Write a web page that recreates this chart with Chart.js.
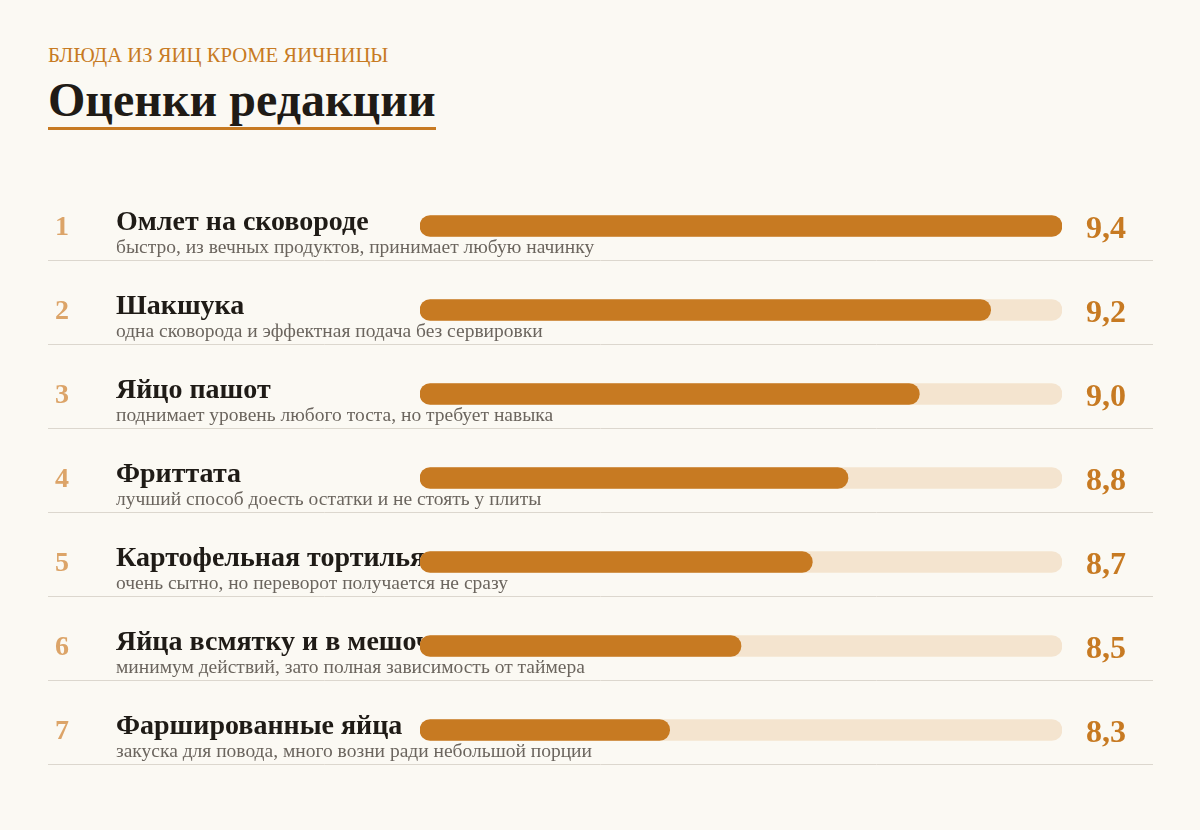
<!DOCTYPE html>
<html lang="ru">
<head>
<meta charset="utf-8">
<script src="https://cdn.jsdelivr.net/npm/chart.js@4.4.1/dist/chart.umd.min.js"></script>
<style>
  html, body { margin: 0; padding: 0; background: #fbf9f3; }
  body { width: 1200px; height: 830px; position: relative; overflow: hidden; font-family: "Liberation Serif", "DejaVu Serif", serif; }
  .kicker { position: absolute; left: 48px; top: 43px; font-size: 20.7px; color: #c77a22; line-height: 24px; }
  .title { position: absolute; left: 48px; top: 74px; font-size: 48px; font-weight: bold; color: #1f1b16; padding-bottom: 1px; border-bottom: 3px solid #c77a22; line-height: 52px; }
  #wrap { position: absolute; left: 0; top: 0; width: 1200px; height: 830px; }
</style>
</head>
<body>
<div class="kicker">БЛЮДА ИЗ ЯИЦ КРОМЕ ЯИЧНИЦЫ</div>
<div class="title">Оценки редакции</div>
<div id="wrap"><canvas id="ratingChart"></canvas></div>
<script>
const dishes = ['Омлет на сковороде', 'Шакшука', 'Яйцо пашот', 'Фриттата', 'Картофельная тортилья', 'Яйца всмятку и в мешочек', 'Фаршированные яйца'];
const notes = [
  'быстро, из вечных продуктов, принимает любую начинку',
  'одна сковорода и эффектная подача без сервировки',
  'поднимает уровень любого тоста, но требует навыка',
  'лучший способ доесть остатки и не стоять у плиты',
  'очень сытно, но переворот получается не сразу',
  'минимум действий, зато полная зависимость от таймера',
  'закуска для повода, много возни ради небольшой порции'
];
const scores = [9.4, 9.2, 9.0, 8.8, 8.7, 8.5, 8.3];
const scaleMin = 7.6;
const scaleMax = 9.4;

const SERIF = '"Liberation Serif", "DejaVu Serif", serif';

// ranks, names, notes, values and row rules, drawn under the bars
const rowText = {
  id: 'rowText',
  beforeDatasetsDraw(chart) {
    const { ctx, scales: { y } } = chart;
    ctx.save();
    dishes.forEach((name, i) => {
      const cy = y.getPixelForValue(i);
      ctx.textBaseline = 'alphabetic';
      ctx.textAlign = 'center';
      ctx.fillStyle = '#dca468';
      ctx.font = 'bold 28px ' + SERIF;
      ctx.fillText(String(i + 1), 62, cy + 9);

      ctx.textAlign = 'left';
      ctx.fillStyle = '#1f1b16';
      ctx.font = 'bold 28px ' + SERIF;
      ctx.fillText(name, 116, cy + 4);

      ctx.fillStyle = '#6b655e';
      ctx.font = '19.5px ' + SERIF;
      ctx.fillText(notes[i], 116, cy + 27);

      ctx.fillStyle = '#c77a22';
      ctx.font = 'bold 32px ' + SERIF;
      ctx.fillText(scores[i].toFixed(1).replace('.', ','), 1086, cy + 12);

      ctx.strokeStyle = '#dcd7ce';
      ctx.lineWidth = 1;
      ctx.beginPath();
      ctx.moveTo(48, Math.round(cy + 34) + 0.5);
      ctx.lineTo(1153, Math.round(cy + 34) + 0.5);
      ctx.stroke();
    });
    ctx.restore();
  }
};

new Chart(document.getElementById('ratingChart'), {
  type: 'bar',
  data: {
    labels: dishes,
    datasets: [
      {
        label: 'Оценка',
        data: scores,
        base: scaleMin,
        backgroundColor: '#c77a22',
        barThickness: 21,
        borderRadius: 11,
        borderSkipped: false,
        grouped: false,
        order: 0
      },
      {
        label: 'Шкала',
        data: dishes.map(() => scaleMax),
        base: scaleMin,
        backgroundColor: '#f4e4cf',
        barThickness: 21,
        borderRadius: 11,
        borderSkipped: false,
        grouped: false,
        order: 1
      }
    ]
  },
  options: {
    indexAxis: 'y',
    responsive: true,
    maintainAspectRatio: false,
    animation: false,
    layout: { padding: { left: 420, right: 138, top: 184, bottom: 58 } },
    plugins: { legend: { display: false }, tooltip: { enabled: false } },
    scales: {
      x: { min: scaleMin, max: scaleMax, display: false },
      y: { display: false }
    }
  },
  plugins: [rowText]
});
</script>
</body>
</html>
